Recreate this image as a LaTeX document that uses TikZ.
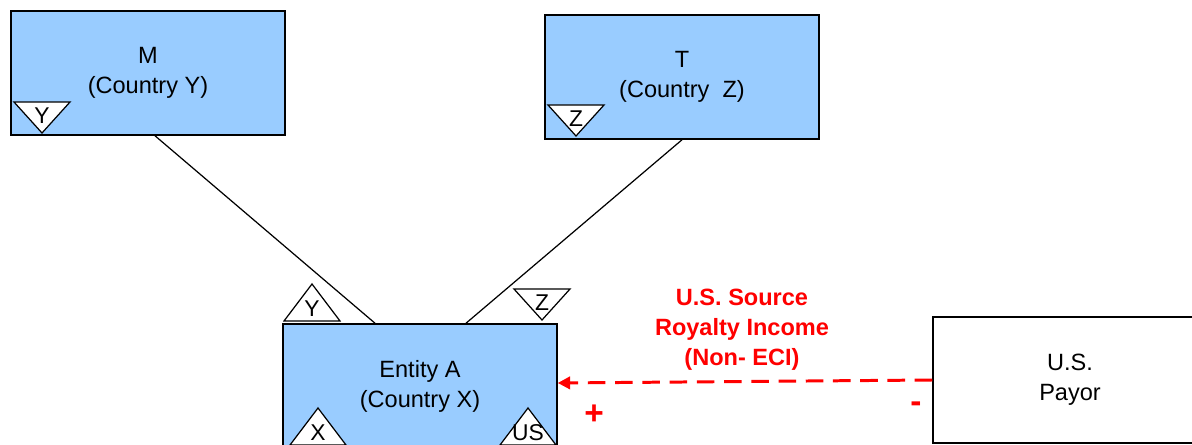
\documentclass[tikz,border=0pt]{standalone}
\usepackage{fontspec}
\setmainfont{Liberation Sans}
\usetikzlibrary{positioning,shapes,calc,arrows.meta}
\definecolor{boxblue}{RGB}{153,204,255}
\definecolor{flowred}{RGB}{255,0,0}

\begin{document}
\begin{tikzpicture}
[x=0.02cm, y=-0.02cm,
 entity/.style={draw=black, line width=0.9pt, fill=boxblue, minimum width=5.48cm,
   minimum height=2.48cm, align=center, inner sep=0pt, font=\fontsize{13.4}{17}\selectfont},
 payor/.style={entity, fill=white, minimum height=2.52cm},
 link/.style={draw=black, line width=0.7pt},
 flow/.style={draw=flowred, line width=1.7pt, dash pattern=on 10pt off 5.5pt,
   -{Triangle[length=7pt,width=7pt]}},
 income/.style={text=flowred, align=center, font=\fontsize{13.4}{17}\selectfont\bfseries},
 sign/.style={text=flowred, font=\fontsize{19}{20}\selectfont\bfseries},
 tri/.style={draw=black, fill=white, line width=0.7pt},
 tritext/.style={font=\fontsize{13}{14}\selectfont, inner sep=0pt},
 downtri/.pic={\draw[tri] (-28,0) -- (28,0) -- (0,31) -- cycle;
               \node[tritext] at (0,14) {#1};},
 uptri/.pic={\draw[tri] (-28,0) -- (28,0) -- (0,-37) -- cycle;
             \node[tritext] at (0,-12) {#1};}]
\useasboundingbox (0,0) rectangle (1192,445);
\clip (0,0) rectangle (1192,445);

% owners
\node[entity] (M) at (148,73) {M\\(Country Y)};
\node[entity] (T) at (682,77) {T\\(Country\ \ Z)};

% entity and payor
\node[entity] (EntA) at (420,386) {Entity A\\(Country X)};
\node[payor] (Payor) at (1070,380) {U.S.\\Payor};

\draw[link] ($(M.south)+(7,0)$) -- ($(EntA.north)+(-45,0)$);
\draw[link] (T.south) -- ($(EntA.north)+(46,0)$);

% classification flags
\pic at (42,102) {downtri=Y};
\pic at (576,105) {downtri=Z};
\pic at (312,321) {uptri=Y};
\pic at (542,289) {downtri=Z};
\pic at (318,445) {uptri=X};
\pic at (528,445) {uptri=US};

% payment
\draw[flow] (Payor.west) -- ($(EntA.east)+(0,-3)$);
\node[income] (roy) at (742,330) {U.S. Source\\Royalty Income\\(Non- ECI)};
\node[sign] (plus) at (594,415) {+};
\node[sign] (minus) at (916,407) {-};
\end{tikzpicture}
\end{document}
